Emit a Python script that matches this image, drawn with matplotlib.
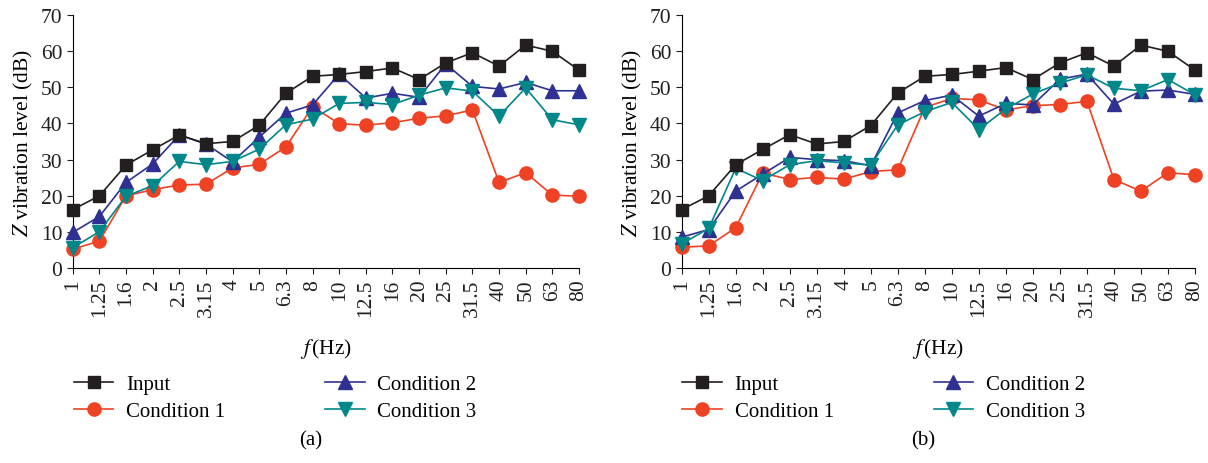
import matplotlib
matplotlib.use("Agg")
import matplotlib.pyplot as plt

plt.rcParams["font.family"] = ["Liberation Serif", "DejaVu Serif"]
plt.rcParams["mathtext.fontset"] = "stix"

# one-third octave frequencies (Hz)
freqs = ["1", "1.25", "1.6", "2", "2.5", "3.15", "4", "5", "6.3", "8", "10",
         "12.5", "16", "20", "25", "31.5", "40", "50", "63", "80"]

# panel (a)
input_a = [16.2, 20.0, 28.5, 32.7, 36.8, 34.4, 35.0, 39.5, 48.3, 53.0, 53.5,
           54.3, 55.3, 52.1, 56.7, 59.5, 55.8, 61.6, 59.9, 54.7]
cond1_a = [5.3, 7.5, 20.0, 21.7, 23.0, 23.2, 27.7, 28.7, 33.5, 44.6, 39.9,
           39.5, 40.2, 41.4, 42.1, 43.7, 23.7, 26.4, 20.2, 19.9]
cond2_a = [9.9, 14.3, 23.7, 28.8, 36.8, 34.3, 29.4, 36.2, 42.8, 45.1, 53.6,
           47.0, 48.3, 47.2, 56.4, 50.2, 49.5, 51.3, 49.0, 49.0]
cond3_a = [5.7, 10.1, 19.9, 22.8, 29.5, 28.6, 29.5, 32.9, 39.6, 41.2, 45.5,
           45.8, 45.2, 47.8, 49.8, 48.9, 42.0, 49.8, 41.0, 39.6]

# panel (b)
input_b = [16.2, 20.0, 28.6, 32.8, 36.9, 34.3, 35.0, 39.4, 48.4, 53.0, 53.5,
           54.4, 55.4, 52.1, 56.7, 59.5, 55.8, 61.6, 59.9, 54.7]
cond1_b = [5.8, 6.2, 11.2, 26.3, 24.5, 25.1, 24.6, 26.7, 27.2, 44.4, 46.9,
           46.5, 43.7, 44.9, 45.2, 46.1, 24.5, 21.3, 26.4, 25.8]
cond2_b = [8.6, 10.7, 21.3, 26.0, 30.6, 30.0, 29.7, 28.3, 42.9, 46.3, 47.8,
           42.0, 45.5, 45.1, 52.2, 53.6, 45.3, 48.9, 49.2, 48.0]
cond3_b = [6.7, 11.0, 27.6, 24.2, 28.6, 29.7, 29.1, 28.5, 39.6, 43.2, 45.8,
           38.3, 44.0, 48.1, 51.1, 53.4, 49.7, 49.0, 52.1, 47.9]

names = ["Input", "Condition 1", "Condition 2", "Condition 3"]
colors = ["#231f20", "#ef4123", "#2e3192", "#00878a"]
markers = ["s", "o", "^", "v"]
msizes = [8, 9.5, 9.5, 9.5]

fig = plt.figure(figsize=(12.08, 4.64), dpi=100)
ax_a = fig.add_axes([0.0602, 0.4196, 0.4191, 0.5466])
ax_b = fig.add_axes([0.5643, 0.4196, 0.4249, 0.5466])

panels = [(ax_a, [input_a, cond1_a, cond2_a, cond3_a], "(a)"),
          (ax_b, [input_b, cond1_b, cond2_b, cond3_b], "(b)")]

x = list(range(len(freqs)))
for ax, series, tag in panels:
    # draw conditions first so input sits on top
    for i in [1, 2, 3, 0]:
        ax.plot(x, series[i], color=colors[i], marker=markers[i], ms=msizes[i],
                lw=1.2, label=names[i], clip_on=False, zorder=3 + (i == 0))
    ax.set_xlim(0, len(freqs) - 1)
    ax.set_ylim(0, 70)
    ax.set_yticks(range(0, 71, 10))
    ax.set_xticks(x)
    ax.set_xticklabels(freqs, rotation=90)
    ax.tick_params(direction="out", length=4, labelsize=15.5, colors="#231f20")
    ax.spines["top"].set_visible(False)
    ax.spines["right"].set_visible(False)
    ax.set_ylabel("$Z$ vibration level (dB)", fontsize=15.5, labelpad=4)
    ax.set_xlabel("$f\\,$(Hz)", fontsize=15.5, labelpad=14)
    # legend ordered Input, Condition 1 | Condition 2, Condition 3
    h, l = ax.get_legend_handles_labels()
    order = [l.index(n) for n in names]
    ax.legend([h[k] for k in order], [l[k] for k in order], ncol=2,
              loc="upper left", bbox_to_anchor=(-0.035, -0.345), frameon=False,
              fontsize=15, handlelength=1.9, handletextpad=0.6,
              columnspacing=4.8, labelspacing=0.35)
    ax.text(0.47, -0.675, tag, transform=ax.transAxes, ha="center",
            va="center", fontsize=15)

plt.savefig("out.png", dpi=100)
